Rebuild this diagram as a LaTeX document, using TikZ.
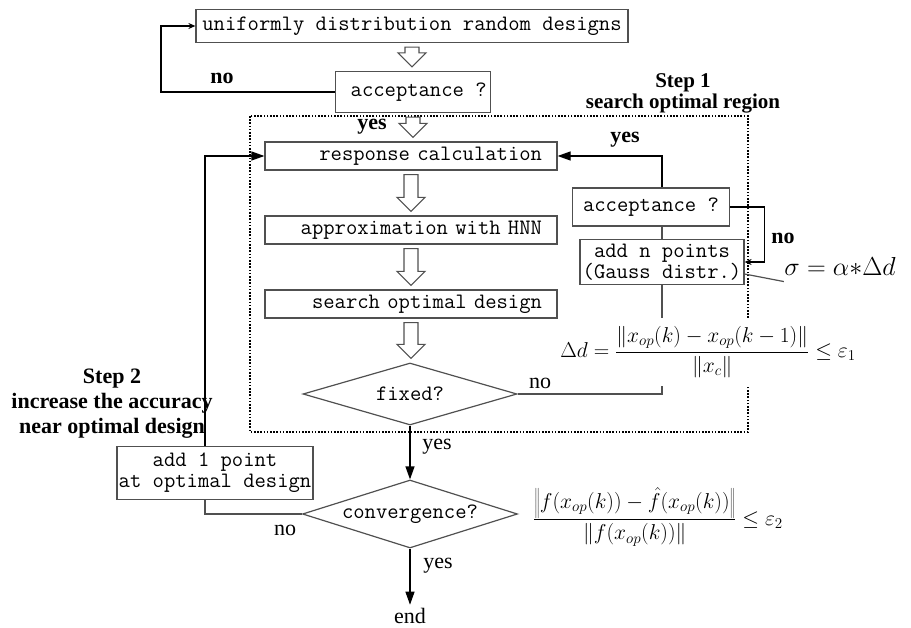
\RequirePackage{fix-cm}
\documentclass[tikz,border=0pt]{standalone}
\usepackage{fontspec}
\setmainfont{Liberation Serif}
\usetikzlibrary{shapes.geometric,arrows.meta,calc}
\definecolor{lineGray}{HTML}{505050}
\newcommand{\boxfont}{\ttfamily\addfontfeature{FakeBold=1}}

% hollow (outlined) arrow between two stacked nodes
\newcommand{\hollowdown}[2]{%
  \draw[hollow] let \p1=($(#1.south)+(0,4)$), \p2=($(#2.north)+(0,-4)$) in
    (\x1-7pt,\y1) -- (\x1+7pt,\y1) -- (\x1+7pt,\y2+14pt) -- (\x1+14pt,\y2+14pt)
    -- (\x1,\y2) -- (\x1-14pt,\y2+14pt) -- (\x1-7pt,\y2+14pt) -- cycle;}

\begin{document}
\begin{tikzpicture}[x=1pt, y=-1pt,
    box/.style={draw=lineGray, line width=1.2pt, inner sep=1pt, align=center,
                font=\boxfont\fontsize{22}{21}\selectfont},
    rbox/.style={box, text width=262pt, inner xsep=15pt, align=right,
                minimum height=28pt},
    decision/.style={diamond, draw=lineGray, line width=1.2pt, inner sep=0pt,
                shape aspect=3.2, font=\boxfont\fontsize{22}{21}\selectfont},
    conn/.style={lineGray, line width=1.2pt},
    tip/.style={-{Stealth[length=7pt,width=6pt]}, black},
    bigtip/.style={-{Triangle[length=13pt,width=9pt]}, black},
    hollow/.style={draw=lineGray, line width=1.1pt, fill=white},
    lab/.style={font=\fontsize{22}{24}\selectfont},
    blab/.style={font=\bfseries\fontsize{22}{24}\selectfont},
    frame/.style={line width=2pt, dash pattern=on 1.6pt off 1.6pt},
  ]
  \useasboundingbox (0,0) rectangle (911,628);

  % Main column
  \node[box, minimum width=432pt, minimum height=33pt] (rand) at (412,26)
    {uniformly distribution random designs};
  \node[box, minimum width=155pt, minimum height=41pt] (acc1) at (413,92)
    {\ acceptance ?};
  \node[rbox] (resp) at (411,156) {response calculation};
  \node[rbox] (approx) at (411,230) {approximation with HNN};
  \node[rbox] (search) at (411,304) {search optimal design};
  \node[decision, minimum width=214pt, minimum height=62pt] (fixed) at (410,394)
    {fixed?};
  \node[decision, minimum width=215pt, minimum height=68pt] (conv) at (410,514)
    {convergence?};
  \node[lab] (endn) at (410,616) {end};

  % Step 1 side loop
  \node[box, minimum width=157pt, minimum height=38pt] (acc2) at (651,207)
    {acceptance ?};
  \node[box, minimum width=164pt, minimum height=45pt] (addn) at (662,262)
    {add n points\\(Gauss distr.)};

  % Step 2 side box
  \node[box, inner xsep=0pt, minimum width=196pt, minimum height=53pt] (add1) at (215,473)
    {add 1 point\\at optimal design};

  % Step 1 region
  \draw[frame] (250,116) rectangle (748,432);

  % Hollow arrows
  \hollowdown{rand}{acc1}
  \hollowdown{acc1}{resp}
  \hollowdown{resp}{approx}
  \hollowdown{approx}{search}
  \hollowdown{search}{fixed}

  % Connectors
  \draw[conn, tip] (acc1.west) -- ++(-174,0) |- (rand.west);
  \draw[conn] (fixed.east) -| (addn.south);
  \draw[conn] (addn.north) -- (addn.north |- acc2.south);
  \draw[conn, bigtip] (addn.north |- acc2.north) |- (resp.east);
  \draw[conn, tip] (acc2.east) -- ++(34,0) |- (addn.east);
  \draw[conn] (conv.west) -| ([xshift=-10pt]add1.south);
  \draw[conn, bigtip] ([xshift=-10pt]add1.north) |- (resp.west);
  \draw[conn, bigtip] (fixed.south) -- (conv.north);
  \draw[conn, bigtip] (conv.south) -- (endn.north);

  % Formulas
  \node[fill=white, inner xsep=1pt, inner ysep=9pt, font=\fontsize{21.5}{23}\selectfont] (crit1) at (708,352)
    {$\displaystyle \Delta d=\frac{\left\|x_{op}(k)-x_{op}(k-1)\right\|}{\left\|x_c\right\|}\le\varepsilon_1$};
  \node[font=\fontsize{21.5}{23}\selectfont] (crit2) at (658,517)
    {$\displaystyle \frac{\left\|f(x_{op}(k))-\hat f(x_{op}(k))\right\|}{\left\|f(x_{op}(k))\right\|}\le\varepsilon_2$};
  \node[font=\fontsize{26}{30}\selectfont] (sigma) at (840,266) {$\sigma=\alpha{*}\Delta d$};
  \draw[conn] ([xshift=3pt,yshift=-3pt]sigma.south west) -- ([yshift=-12pt]addn.east);

  % Labels
  \node[blab] (no1) at (222,78) {no};
  \node[blab] (yes1) at (372,127) {yes};
  \node[blab] (yes2) at (625,140) {yes};
  \node[blab] (no2) at (783,238) {no};
  \node[lab] (no3) at (540,383) {no};
  \node[lab] (yes3) at (437,447) {yes};
  \node[lab] (no4) at (285,530) {no};
  \node[lab] (yes4) at (438,566) {yes};
  \node[font=\bfseries\fontsize{21}{21}\selectfont, align=center] (step1) at (683,93)
    {Step 1\\search optimal region};
  \node[font=\bfseries\fontsize{22}{25}\selectfont, align=center] (step2) at (112,404)
    {Step 2\\increase the accuracy\\near optimal design};
\end{tikzpicture}
\end{document}
